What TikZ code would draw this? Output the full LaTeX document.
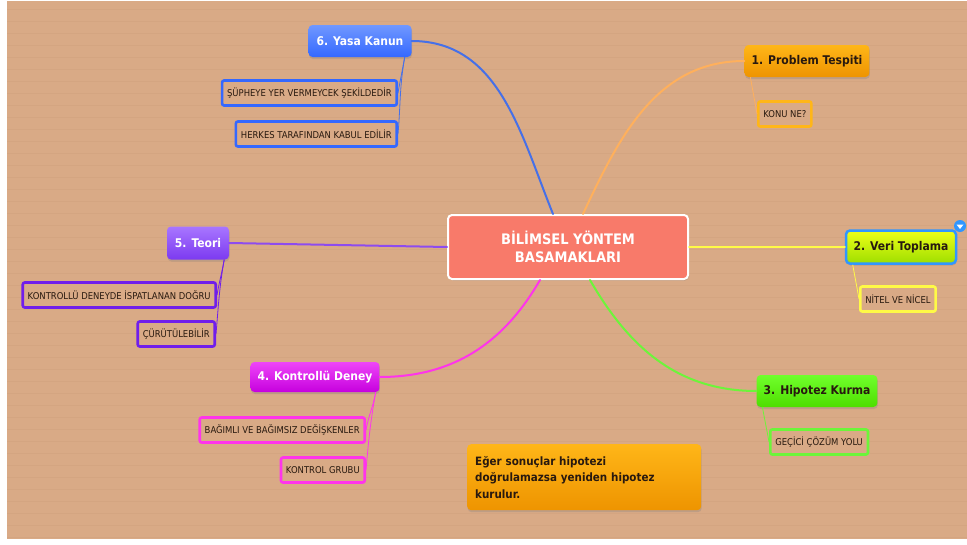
\documentclass[tikz,border=0pt]{standalone}
\usepackage{fontspec}
\setmainfont{DejaVu Sans Condensed}
\usetikzlibrary{shadows,calc}

\definecolor{bg}{RGB}{217,170,134}
\definecolor{stripe}{RGB}{207,160,124}
\definecolor{rootfill}{RGB}{248,122,106}
\definecolor{blueA}{RGB}{112,152,255}
\definecolor{blueB}{RGB}{52,104,255}
\definecolor{blueL}{RGB}{70,112,232}
\definecolor{orangeA}{RGB}{255,182,24}
\definecolor{orangeB}{RGB}{238,148,0}
\definecolor{orangeL}{RGB}{255,176,92}
\definecolor{purpleA}{RGB}{168,118,255}
\definecolor{purpleB}{RGB}{124,58,240}
\definecolor{purpleL}{RGB}{112,30,235}
\definecolor{magA}{RGB}{238,70,248}
\definecolor{magB}{RGB}{198,0,222}
\definecolor{magL}{RGB}{255,52,235}
\definecolor{greenA}{RGB}{112,255,44}
\definecolor{greenB}{RGB}{78,222,0}
\definecolor{greenL}{RGB}{108,245,58}
\definecolor{limeA}{RGB}{238,255,24}
\definecolor{limeB}{RGB}{158,222,0}
\definecolor{yellowL}{RGB}{255,250,70}
\definecolor{selblue}{RGB}{48,150,255}
\definecolor{inkdark}{RGB}{40,25,15}

\begin{document}
\begin{tikzpicture}[x=1pt,y=-1pt,
  root/.style={rectangle,rounded corners=4pt,draw=white,line width=2pt,fill=rootfill,
    text=white,font=\bfseries\fontsize{14.5}{18}\selectfont,align=center,
    minimum width=240,minimum height=64,
    drop shadow={shadow xshift=1pt,shadow yshift=-1.5pt,opacity=.3}},
  topic/.style={rectangle,rounded corners=4pt,font=\bfseries\fontsize{12}{14}\selectfont,
    minimum height=32,inner xsep=7pt,
    drop shadow={shadow xshift=.5pt,shadow yshift=-2pt,opacity=.3}},
  sub/.style={rectangle,rounded corners=2pt,line width=2.6pt,fill=bg,text=inkdark,
    font=\fontsize{9.4}{11}\selectfont,minimum height=25,inner xsep=5pt},
  branch/.style={line width=2pt,line cap=round},
  twig/.style={line width=.8pt}]

% background
\useasboundingbox (0,0) rectangle (967,544);
\fill[white] (0,0) rectangle (967,544);
\fill[bg] (7,1) rectangle (967,539);
\foreach \y in {9,21,...,537}
  \draw[stripe,line width=.5pt,opacity=.45] (7,\y) -- (967,\y);

% centre
\node (root) [root] at (568,247) {BİLİMSEL YÖNTEM\\BASAMAKLARI};

% main steps
\node (prob)  [topic,top color=orangeA,bottom color=orangeB,text=inkdark,minimum width=123] at (807,61) {1. Problem Tespiti};
\node (veri)  [topic,top color=limeA,bottom color=limeB,text=inkdark,draw=selblue,line width=2.5pt,minimum width=110,minimum height=33] at (901,247) {2. Veri Toplama};
\node (hip)   [topic,top color=greenA,bottom color=greenB,text=inkdark,minimum width=120] at (817,391) {3. Hipotez Kurma};
\node (deney) [topic,top color=magA,bottom color=magB,text=white,minimum width=126,minimum height=30] at (315,377) {4. Kontrollü Deney};
\node (teori) [topic,top color=purpleA,bottom color=purpleB,text=white,minimum width=62,minimum height=33] at (198,243) {5. Teori};
\node (yasa)  [topic,top color=blueA,bottom color=blueB,text=white,minimum width=103] at (360,41) {6. Yasa Kanun};

% details
\node (konu) [sub,draw=orangeA,anchor=west] at (757,114) {KONU NE?};
\node (nitel) [sub,draw=yellowL,anchor=west] at (859,299) {NİTEL VE NİCEL};
\node (gecici) [sub,draw=greenL,anchor=west] at (769,442) {GEÇİCİ ÇÖZÜM YOLU};
\node (bagim) [sub,draw=magL,anchor=east] at (366,430) {BAĞIMLI VE BAĞIMSIZ DEĞİŞKENLER};
\node (grup) [sub,draw=magL,anchor=east] at (366,470) {KONTROL GRUBU};
\node (ispat) [sub,draw=purpleL,anchor=east] at (217,295) {KONTROLLÜ DENEYDE İSPATLANAN DOĞRU};
\node (curut) [sub,draw=purpleL,anchor=east] at (216,334) {ÇÜRÜTÜLEBİLİR};
\node (suphe) [sub,draw=blueB,anchor=east] at (398,93) {ŞÜPHEYE YER VERMEYCEK ŞEKİLDEDİR};
\node (herkes) [sub,draw=blueB,anchor=east] at (398,134) {HERKES TARAFINDAN KABUL EDİLİR};

% note
\node (note) [topic,top color=orangeA,bottom color=orangeB,text=inkdark,align=left,
  font=\bfseries\fontsize{11.5}{16.5}\selectfont,text width=218,inner xsep=8pt,minimum height=66,anchor=north west]
  at (467,444) {Eğer sonuçlar hipotezi\\doğrulamazsa yeniden hipotez\\kurulur.};

% selection marker
\node (mark) [circle,fill=selblue,inner sep=0pt,minimum size=12] at (960,226) {};
\fill[white] ($(mark)+(-3.5,-1.5)$) -- ($(mark)+(3.5,-1.5)$) -- ($(mark)+(0,3)$) -- cycle;

% branches
\draw [branch,blueL] ([xshift=-15]root.north) to[out=112,in=0] (yasa.east);
\draw [branch,orangeL] ([xshift=15]root.north) to[out=65,in=180] (prob.west);
\draw [branch,yellowL] (root.east) -- (veri.west);
\draw [branch,greenL] ([xshift=22]root.south) to[out=-60,in=180] (hip.west);
\draw [branch,magL] ([xshift=-28]root.south) to[out=-120,in=0] (deney.east);
\draw [branch,purpleL!80!white] (root.west) -- (teori.east);

% twigs
\draw [twig,blueL] ([xshift=-7]yasa.south east) to[out=-100,in=80] (suphe.east);
\draw [twig,blueL] ([xshift=-7]yasa.south east) to[out=-100,in=85] (herkes.east);
\draw [twig,orangeL] ([xshift=6]prob.south west) to[out=-80,in=100] (konu.west);
\draw [twig,yellowL] ([xshift=8]veri.south west) to[out=-80,in=100] (nitel.west);
\draw [twig,greenL] ([xshift=6]hip.south west) to[out=-80,in=100] (gecici.west);
\draw [twig,magL] ([xshift=-4]deney.south east) to[out=-100,in=80] (bagim.east);
\draw [twig,magL] ([xshift=-4]deney.south east) to[out=-100,in=85] (grup.east);
\draw [twig,purpleL] ([xshift=-5]teori.south east) to[out=-100,in=80] (ispat.east);
\draw [twig,purpleL] ([xshift=-5]teori.south east) to[out=-100,in=85] (curut.east);
\end{tikzpicture}
\end{document}
